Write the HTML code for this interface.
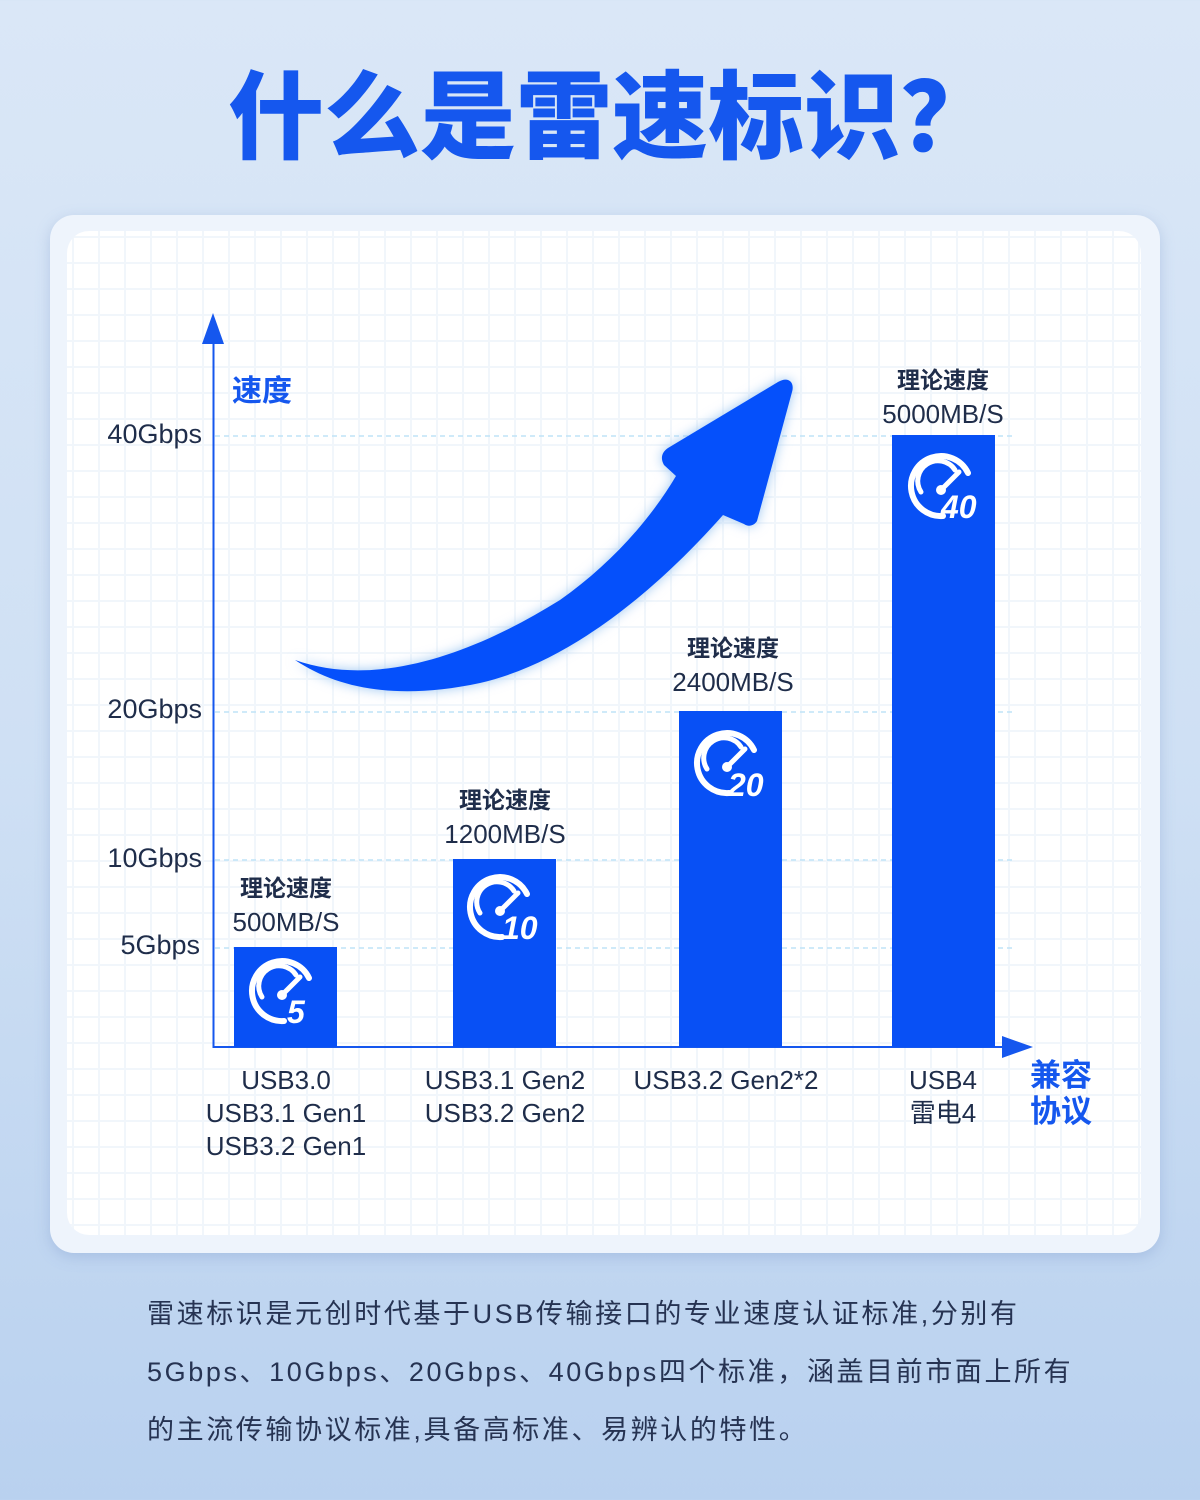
<!DOCTYPE html>
<html><head><meta charset="utf-8"><style>
*{margin:0;padding:0;box-sizing:border-box}
body{width:1200px;height:1500px;position:relative;overflow:hidden;background:linear-gradient(180deg,#dae7f7 0%,#cfe0f4 50%,#b9d1ef 100%);font-family:"Liberation Sans","Noto Sans CJK SC",sans-serif}
.abs{position:absolute}
.title{left:12px;width:1200px;top:40px;text-align:center;font-size:96px;font-weight:900;color:#1557ee;letter-spacing:0px}
.outer{left:50px;top:215px;width:1110px;height:1038px;border-radius:24px;background:#eef4fc;box-shadow:0 4px 14px rgba(120,150,200,.35)}
.inner{left:67px;top:231px;width:1074px;height:1004px;border-radius:22px;background:#fff;
background-image:linear-gradient(#f1f6fb 2px,transparent 2px),linear-gradient(90deg,#f1f6fb 2px,transparent 2px);background-size:26px 26px;background-position:5px 5px}
.lbl{color:#1f2d4a;font-size:26px;text-align:center}
.ylab{color:#1f2d4a;font-size:27px;text-align:right;width:140px;left:62px}
.para{left:147px;color:#263352;font-size:27px;letter-spacing:2.6px}
</style></head><body>
<div class="abs title">什么是雷速标识？</div>
<div class="abs outer"></div>
<div class="abs inner"></div>
<svg class="abs" style="left:0;top:0" width="1200" height="1500">
<defs><filter id="g" x="-20%" y="-20%" width="140%" height="140%"><feGaussianBlur stdDeviation="6"/></filter>
<g id="gauge" fill="none" stroke="#fff" stroke-linecap="round">
<path d="M2,30 A30,30 0 1 1 27,-13" stroke-width="6"/>
<path d="M-20,6 A20,20 0 0 1 14,-16" stroke-width="5"/>
<line x1="2" y1="2" x2="18" y2="-14" stroke-width="5"/>
<circle cx="0" cy="4" r="5" fill="#fff" stroke="none"/>
</g></defs>
<g stroke="#bfe3f7" stroke-width="1.5" stroke-dasharray="5,4">
<line x1="215" y1="436" x2="1015" y2="436"/><line x1="215" y1="712" x2="1015" y2="712"/>
<line x1="215" y1="860" x2="1015" y2="860"/><line x1="215" y1="948" x2="1015" y2="948"/></g>
<line x1="213.5" y1="335" x2="213.5" y2="1048" stroke="#1557ee" stroke-width="2"/>
<polygon points="213,313 202,344 224,344" fill="#1557ee"/>
<line x1="213" y1="1047" x2="1012" y2="1047" stroke="#1557ee" stroke-width="2"/>
<polygon points="1033,1047 1002,1036 1002,1058" fill="#1557ee"/>
<path d="M295,660 C380,690 480,650 560,600 C610,565 650,520 676,476 L664,465 C660,458 662,452 668,448 L778,382 C788,376 795,382 792,392 L757,521 C754,526 748,527 744,524 L723,515 C670,575 580,660 480,683 C400,700 340,690 295,660 Z" fill="#9cc6f2" filter="url(#g)"/>
<path d="M295,660 C380,690 480,650 560,600 C610,565 650,520 676,476 L664,465 C660,458 662,452 668,448 L778,382 C788,376 795,382 792,392 L757,521 C754,526 748,527 744,524 L723,515 C670,575 580,660 480,683 C400,700 340,690 295,660 Z" fill="#0550fb"/>
<rect x="234" y="947" width="103" height="100" fill="#0850f5"/>
<rect x="453" y="859" width="103" height="188" fill="#0850f5"/>
<rect x="679" y="711" width="103" height="336" fill="#0850f5"/>
<rect x="892" y="435" width="103" height="612" fill="#0850f5"/>
<g font-family="Liberation Sans,sans-serif" font-weight="bold" font-style="italic" fill="#fff">
<use href="#gauge" x="282" y="991"/><text x="287" y="1023" font-size="32">5</text>
<use href="#gauge" x="500" y="907"/><text x="502" y="939" font-size="32">10</text>
<use href="#gauge" x="727" y="763"/><text x="728" y="796" font-size="32">20</text>
<use href="#gauge" x="941" y="486"/><text x="941" y="518" font-size="32">40</text>
</g>
</svg>
<div class="abs" style="left:232px;top:366px;font-size:30px;font-weight:bold;color:#1557ee">速度</div>
<div class="abs ylab" style="top:419px">40Gbps</div>
<div class="abs ylab" style="top:694px">20Gbps</div>
<div class="abs ylab" style="top:843px">10Gbps</div>
<div class="abs ylab" style="top:930px;width:138px">5Gbps</div>
<div class="abs lbl" style="left:186px;width:200px;top:870px;line-height:34px"><b style="font-size:23px">理论速度</b><br>500MB/S</div>
<div class="abs lbl" style="left:405px;width:200px;top:782px;line-height:34px"><b style="font-size:23px">理论速度</b><br>1200MB/S</div>
<div class="abs lbl" style="left:633px;width:200px;top:630px;line-height:34px"><b style="font-size:23px">理论速度</b><br>2400MB/S</div>
<div class="abs lbl" style="left:843px;width:200px;top:362px;line-height:34px"><b style="font-size:23px">理论速度</b><br>5000MB/S</div>
<div class="abs lbl" style="left:186px;width:200px;top:1064px;line-height:33px">USB3.0<br>USB3.1 Gen1<br>USB3.2 Gen1</div>
<div class="abs lbl" style="left:405px;width:200px;top:1064px;line-height:33px">USB3.1 Gen2<br>USB3.2 Gen2</div>
<div class="abs lbl" style="left:606px;width:240px;top:1064px;line-height:33px">USB3.2 Gen2*2</div>
<div class="abs lbl" style="left:843px;width:200px;top:1064px;line-height:33px">USB4<br>雷电4</div>
<div class="abs" style="left:1030px;top:1058px;font-size:31px;font-weight:bold;color:#1557ee;line-height:36px">兼容<br>协议</div>
<div class="abs para" style="top:1292px">雷速标识是元创时代基于USB传输接口的专业速度认证标准,分别有</div>
<div class="abs para" style="top:1350px">5Gbps、10Gbps、20Gbps、40Gbps四个标准，涵盖目前市面上所有</div>
<div class="abs para" style="top:1408px">的主流传输协议标准,具备高标准、易辨认的特性。</div>
</body></html>
